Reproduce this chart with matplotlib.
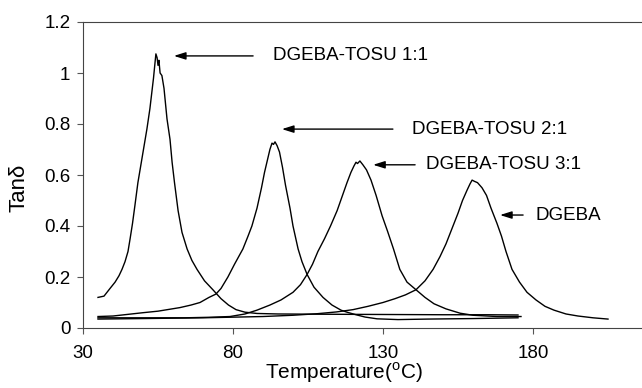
import matplotlib.pyplot as plt

plt.rcParams['font.family'] = ['Liberation Sans', 'DejaVu Sans']
plt.rcParams['mathtext.fontset'] = 'custom'
plt.rcParams['mathtext.rm'] = 'Liberation Sans'

# tan delta curves (temperature in C, tan delta)
t_11 = [35, 37, 39, 40.7, 42, 43, 44, 45, 45.7, 46.5, 47.3, 48.3, 49.3, 50.3, 51.3, 52.3, 53,
        53.5, 54, 54.3, 54.7, 55, 55.3, 55.7, 56.3, 57, 57.5, 58, 59, 59.7, 60.5, 61.7, 63,
        64.7, 66.3, 68, 70.5, 73.3, 76, 78.5, 81, 84, 88, 95, 110, 130, 150, 165, 175]
y_11 = [0.12, 0.125, 0.155, 0.18, 0.205, 0.23, 0.26, 0.3, 0.35, 0.41, 0.48, 0.57, 0.64, 0.71,
        0.78, 0.86, 0.93, 0.98, 1.04, 1.075, 1.06, 1.03, 1.05, 1.0, 0.99, 0.94, 0.88, 0.82,
        0.74, 0.65, 0.57, 0.46, 0.375, 0.31, 0.265, 0.23, 0.185, 0.15, 0.115, 0.09, 0.072,
        0.062, 0.057, 0.055, 0.054, 0.053, 0.052, 0.052, 0.051]

t_21 = [35, 40, 42.3, 50, 55, 62.3, 66, 69, 72, 74.3, 76, 78.3, 80.5, 83.3, 85, 86.3, 88,
        89.5, 90.5, 91.5, 92.3, 93, 93.5, 94, 94.7, 95.5, 96.5, 97.5, 99, 100, 101.7, 103,
        104.7, 107, 110, 113, 116, 118, 121, 124, 128, 135, 145, 160, 175]
y_21 = [0.045, 0.047, 0.05, 0.06, 0.066, 0.08, 0.09, 0.1, 0.12, 0.133, 0.155, 0.2, 0.25,
        0.31, 0.36, 0.4, 0.47, 0.55, 0.61, 0.66, 0.7, 0.725, 0.72, 0.73, 0.715, 0.69, 0.63,
        0.56, 0.47, 0.4, 0.31, 0.26, 0.21, 0.16, 0.12, 0.09, 0.07, 0.062, 0.052, 0.043,
        0.036, 0.033, 0.035, 0.037, 0.04]

t_31 = [35, 45, 55, 64, 72, 79, 84, 88, 92.3, 96, 100, 102.5, 104.7, 106.5, 108.3, 110.5,
        112.5, 114.7, 116.5, 118, 119.3, 120.3, 121, 121.5, 122.3, 123.3, 124.5, 126, 127.7,
        129.7, 131.5, 133.5, 135.6, 138, 141, 144, 147, 151, 155.7, 160, 168, 176]
y_31 = [0.04, 0.04, 0.04, 0.04, 0.042, 0.045, 0.055, 0.07, 0.09, 0.11, 0.14, 0.17, 0.21,
        0.25, 0.3, 0.35, 0.4, 0.46, 0.52, 0.57, 0.61, 0.635, 0.65, 0.645, 0.655, 0.64, 0.62,
        0.58, 0.52, 0.44, 0.38, 0.31, 0.23, 0.18, 0.15, 0.12, 0.095, 0.075, 0.058, 0.05,
        0.045, 0.045]

t_dgeba = [35, 50, 70, 90, 100, 108, 114.5, 120, 125, 130, 134, 137.5, 141, 144, 146.7, 149,
           151, 153, 155, 156.5, 158, 159, 159.7, 160.5, 161.5, 163, 164.5, 166, 168, 169.5,
           171, 173, 175.5, 178, 181, 184, 187, 191, 195, 200, 205]
y_dgeba = [0.035, 0.037, 0.04, 0.045, 0.05, 0.056, 0.063, 0.072, 0.085, 0.1, 0.115, 0.13,
           0.15, 0.185, 0.23, 0.28, 0.33, 0.39, 0.45, 0.5, 0.54, 0.565, 0.58, 0.575, 0.57,
           0.55, 0.52, 0.47, 0.41, 0.36, 0.3, 0.23, 0.18, 0.14, 0.11, 0.085, 0.07, 0.055,
           0.047, 0.04, 0.035]

# labels: text, arrow head (x, y), arrow tail x, text x
labels = ["DGEBA-TOSU 1:1", "DGEBA-TOSU 2:1", "DGEBA-TOSU 3:1", "DGEBA"]
head_x = [60.3, 96.3, 126.7, 169]
head_y = [1.067, 0.78, 0.64, 0.443]
tail_x = [86.7, 133.3, 140.7, 176.7]
text_x = [93.3, 139.7, 144.5, 180.7]

xticks = [30, 80, 130, 180]
yticks = [0, 0.2, 0.4, 0.6, 0.8, 1.0, 1.2]
ytick_labels = ["0", "0.2", "0.4", "0.6", "0.8", "1", "1.2"]

fig = plt.figure(figsize=(6.42, 3.88), dpi=100)
ax = fig.add_axes([83 / 642, 1 - 328 / 388, 1 - 83 / 642, (328 - 22) / 388])

for t, y in [(t_11, y_11), (t_21, y_21), (t_31, y_31), (t_dgeba, y_dgeba)]:
    ax.plot(t, y, color='black', lw=1.0)

for lab, hx, hy, tx, lx in zip(labels, head_x, head_y, tail_x, text_x):
    ax.annotate("", xy=(hx, hy), xytext=(tx, hy),
                arrowprops=dict(arrowstyle='-|>,head_length=0.7,head_width=0.22',
                                color='black', lw=1.0, shrinkA=0, shrinkB=0))
    ax.text(lx, hy, lab, ha='left', va='center', fontsize=13.5)

ax.set_xlim(30, 30 + (642 - 83) / 3)
ax.set_ylim(0, 1.2)
ax.set_xticks(xticks)
ax.set_yticks(yticks)
ax.set_yticklabels(ytick_labels)
ax.tick_params(axis='both', labelsize=13.5, direction='out', length=4, color='#555555')
ax.tick_params(axis='x', pad=8)
ax.tick_params(axis='y', pad=5)
ax.spines['right'].set_visible(False)
for s in ['left', 'bottom', 'top']:
    ax.spines[s].set_color('#444444')

ax.set_xlabel(r"Temperature($^{\rm o}$C)", fontsize=15)
ax.xaxis.set_label_coords((344 - 83) / 559, -0.105)
ax.set_ylabel("Tan\u03b4", fontsize=16)
ax.yaxis.set_label_coords(-0.095, 0.457)

fig.savefig("out.png", dpi=100)
